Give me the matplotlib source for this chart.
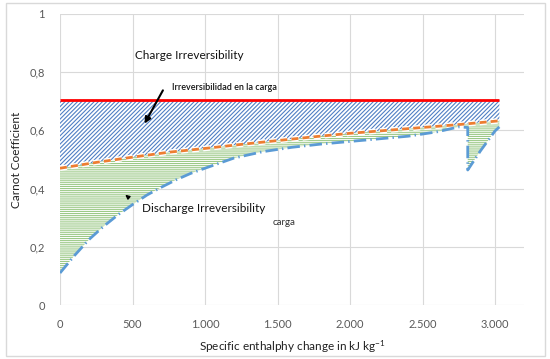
import numpy as np
import matplotlib
matplotlib.use("Agg")
import matplotlib.pyplot as plt
from matplotlib.patches import Rectangle
import matplotlib.patheffects as pe

plt.rcParams['font.family'] = ['Lato', 'DejaVu Sans']
plt.rcParams['mathtext.default'] = 'regular'
plt.rcParams['hatch.linewidth'] = 0.8

# ---- data ----
red_x = [0, 3030]
red_y = [0.705, 0.705]

orange_x = [0, 250, 500, 750, 1000, 1250, 1500, 1750, 2000, 2250, 2500, 2750, 3030]
orange_y = [0.47, 0.49, 0.508, 0.525, 0.538, 0.552, 0.565, 0.578, 0.59, 0.60, 0.61, 0.62, 0.633]

blue_x = [0, 100, 200, 300, 400, 500, 600, 700, 800, 900, 1000, 1200, 1400, 1600,
          1800, 2000, 2200, 2400, 2600, 2750, 2812, 2812, 2900, 3000, 3030]
blue_y = [0.11, 0.17, 0.225, 0.27, 0.31, 0.345, 0.378, 0.405, 0.43, 0.452, 0.47, 0.505,
          0.527, 0.542, 0.553, 0.562, 0.571, 0.58, 0.595, 0.612, 0.61, 0.464, 0.53,
          0.598, 0.612]

x_ticks = [0, 500, 1000, 1500, 2000, 2500, 3000]
x_ticklabels = ["0", "500", "1.000", "1.500", "2.000", "2.500", "3.000"]
y_ticks = [0, 0.2, 0.4, 0.6, 0.8, 1.0]
y_ticklabels = ["0", "0,2", "0,4", "0,6", "0,8", "1"]

W, H = 550, 359
fig = plt.figure(figsize=(W / 100, H / 100), dpi=100)
ax = fig.add_axes([60 / W, 1 - 305 / H, (524 - 60) / W, (305 - 14) / H])

# outer chart border
fig.patches.append(Rectangle((6 / W, 1 - 356 / H), 539 / W, 353 / H, transform=fig.transFigure,
                             fill=False, edgecolor='#D9D9D9', linewidth=1.0))

# hatched regions
ax.fill_between(orange_x, orange_y, red_y[0], facecolor='white', edgecolor='#4F7FC4',
                hatch='////////', linewidth=0, zorder=2)
poly_x = np.concatenate([orange_x, blue_x[::-1]])
poly_y = np.concatenate([orange_y, blue_y[::-1]])
ax.fill(poly_x, poly_y, facecolor='white', edgecolor='#9CC987', hatch='--------',
        linewidth=0, zorder=2)

# lines
ax.plot(red_x, red_y, color='#FF0000', lw=2.0, zorder=5, solid_capstyle='butt')
ax.plot(orange_x, orange_y, color='#ED7D31', lw=2.0, dashes=(2.5, 1.5), zorder=5,
        path_effects=[pe.Stroke(linewidth=4, foreground='white'), pe.Normal()])
ax.plot(blue_x, blue_y, color='#5B9BD5', lw=2.0, dashes=(4.5, 1.5, 0.5, 1.5), zorder=5)

# axes styling
ax.set_xlim(0, 3200)
ax.set_ylim(0, 1)
ax.set_xticks(x_ticks)
ax.set_xticklabels(x_ticklabels)
ax.set_yticks(y_ticks)
ax.set_yticklabels(y_ticklabels)
ax.tick_params(length=0, labelsize=8, labelcolor='#595959')
ax.tick_params(axis='y', pad=11)
ax.tick_params(axis='x', pad=10)
for s in ax.spines.values():
    s.set_visible(False)
ax.grid(True, color='#D9D9D9', lw=0.8, zorder=0)
ax.set_axisbelow(True)

ax.set_ylabel('Carnot Coefficient', fontsize=8.5, color='#222222', labelpad=5)
ax.set_xlabel('Specific enthalphy change in kJ kg$^{-1}$', fontsize=8.5, color='#222222', labelpad=6)

# annotations
ax.text(518, 0.856, 'Charge Irreversibility', fontsize=8.5, color='#111111', va='center', ha='left', zorder=6)
ax.text(774, 0.749, 'Irreversibilidad en la carga', fontsize=6.5, color='#111111', va='center',
        ha='left', zorder=6, fontweight='semibold')
ax.annotate('', xy=(574, 0.615), xytext=(719, 0.746),
            arrowprops=dict(arrowstyle='-|>', color='black', lw=1.5, mutation_scale=9), zorder=6)
ax.text(567, 0.33, 'Discharge Irreversibility', fontsize=8.5, color='#111111', va='center', ha='left', zorder=6)
ax.annotate('', xy=(435, 0.385), xytext=(484, 0.365),
            arrowprops=dict(arrowstyle='-|>', color='black', lw=1.0, mutation_scale=6), zorder=6)
ax.text(1465, 0.285, 'carga', fontsize=7, color='#333333', va='center', ha='left', zorder=6)

fig.savefig('out.png', dpi=100)
